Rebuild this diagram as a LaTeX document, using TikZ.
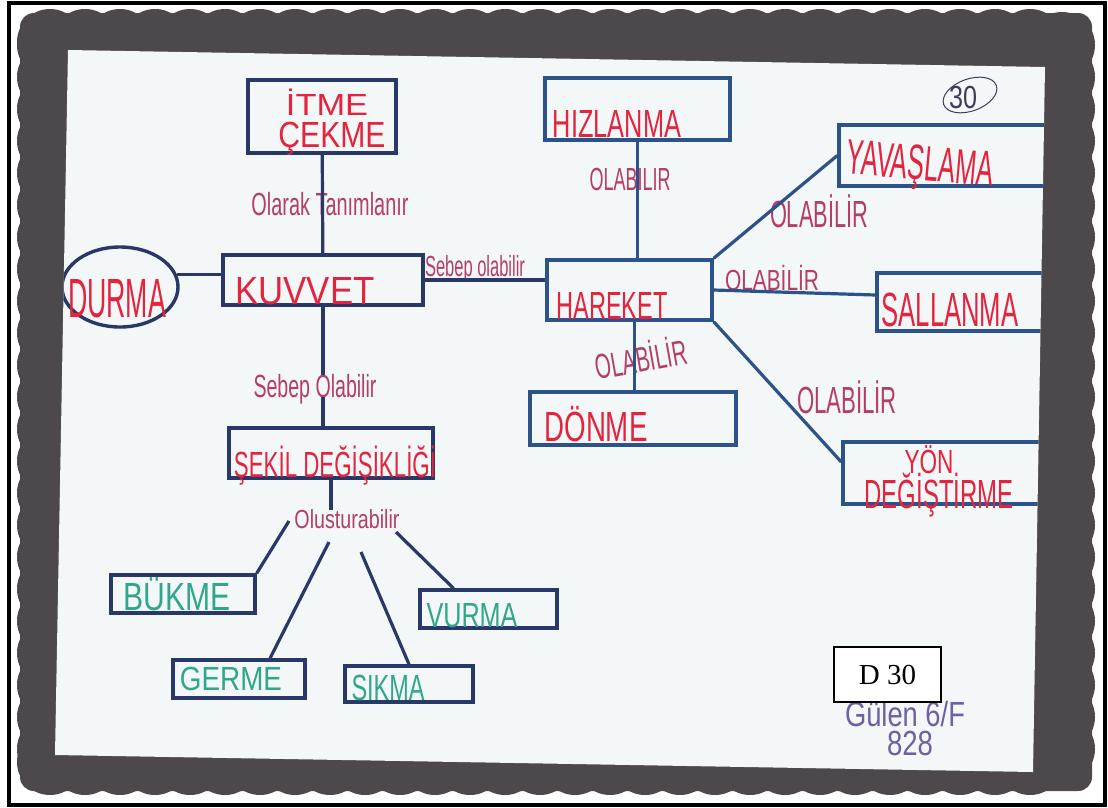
\documentclass[tikz,border=0pt]{standalone}
\usepackage{fontspec}
\usepackage{graphicx}
\newfontfamily\hand{Liberation Sans}
\newfontfamily\timesf{Liberation Serif}
\usetikzlibrary{calc,shapes.geometric}
\definecolor{navy}{RGB}{40,56,104}
\definecolor{blueline}{RGB}{44,82,138}
\definecolor{redtxt}{RGB}{226,36,62}
\definecolor{linktxt}{RGB}{180,62,104}
\definecolor{tealtxt}{RGB}{48,166,140}
\definecolor{band}{RGB}{76,72,76}
\definecolor{paper}{RGB}{244,247,247}
\definecolor{pencil}{RGB}{62,62,90}
\definecolor{purplepen}{RGB}{110,96,162}
\newcommand\hw[3]{\resizebox{#1pt}{#2pt}{\hand\smash{#3}\vphantom{E}}}
\begin{document}
\begin{tikzpicture}[x=1pt,y=-1pt,
  boxL/.style={draw=navy,line width=3.4pt,inner sep=0pt},
  boxR/.style={draw=blueline,line width=3.4pt,inner sep=0pt},
  linkL/.style={draw=navy,line width=3.2pt},
  linkR/.style={draw=blueline,line width=3.2pt},
  word/.style={inner sep=0pt,text=redtxt},
  greenword/.style={inner sep=0pt,text=tealtxt},
  linkword/.style={inner sep=0pt,text=linktxt}]
\useasboundingbox (0,0) rectangle (1108,807);
\fill[white] (0,0) rectangle (1108,807);
% scalloped dark card
\fill[band, rounded corners=14pt] (20,13) rectangle (1092,791);
\foreach \x in {50,85,...,1060} {
  \fill[band] (\x,42) circle (33pt);
  \fill[band] (\x,762) circle (33pt);
}
\foreach \y in {45,77,...,765} {
  \fill[band] (50,\y) circle (33pt);
  \fill[band] (1062,\y) circle (33pt);
}
\draw[black,line width=4pt] (9,3) rectangle (1105,805);
% paper
\fill[paper] (68,50) -- (1045,67) -- (1033,772) -- (55,755) -- cycle;
\begin{scope}
\clip (68,50) -- (1045,67) -- (1033,772) -- (55,755) -- cycle;
% boxes
\node[boxL,minimum width=148pt,minimum height=73pt] (A) at (322,116.5) {};
\node[boxL,minimum width=200pt,minimum height=50pt] (B) at (323,280) {};
\node[boxL,ellipse,minimum width=116pt,minimum height=80pt] (C) at (120,287) {};
\node[boxL,minimum width=204pt,minimum height=50pt] (D) at (331,453) {};
\node[boxL,minimum width=144pt,minimum height=38pt] (E) at (183,594) {};
\node[boxL,minimum width=132pt,minimum height=38pt] (F) at (239,679) {};
\node[boxL,minimum width=128pt,minimum height=36pt] (G) at (409,684) {};
\node[boxL,minimum width=137pt,minimum height=38pt] (H) at (488.5,609) {};
\node[boxR,minimum width=185pt,minimum height=62pt] (I) at (637.5,109) {};
\node[boxR,minimum width=165pt,minimum height=60pt] (J) at (629.5,290) {};
\node[boxR,minimum width=206pt,minimum height=53pt] (K) at (633,418.5) {};
\node[boxR,minimum width=231pt,minimum height=61pt] (L) at (954.5,155.5) {};
\node[boxR,minimum width=193pt,minimum height=58pt] (M) at (973.5,302) {};
\node[boxR,minimum width=227pt,minimum height=62pt] (N) at (956.5,473) {};
% texts in boxes
\node[word] (tItme) at (327,105) {\hw{82}{21}{İTME}};
\node[word] (tCekme) at (332,135) {\hw{107}{25}{ÇEKME}};
\node[word] (tKuvvet) at (305,291) {\hw{139}{27}{KUVVET}};
\node[word] (tDurma) at (117,298) {\hw{98}{38}{DURMA}};
\node[word] (tSekil) at (335,465) {\hw{202}{25}{ŞEKİL DEĞİŞİKLİĞİ}};
\node[greenword] (tBukme) at (177,597) {\hw{107}{27}{BÜKME}};
\node[greenword] (tGerme) at (231,679) {\hw{102}{23}{GERME}};
\node[greenword] (tSikma) at (388,688) {\hw{73}{25}{SIKMA}};
\node[greenword] (tVurma) at (472,615) {\hw{91}{24}{VURMA}};
\node[word] (tHiz) at (617,124) {\hw{128}{27}{HIZLANMA}};
\node[word,rotate=-5] (tYav) at (920,163) {\hw{147}{34}{YAVAŞLAMA}};
\node[word] (tHar) at (612,306) {\hw{111}{27}{HAREKET}};
\node[word] (tSal) at (950,310) {\hw{137}{33}{SALLANMA}};
\node[word] (tDon) at (596,427) {\hw{103}{29}{DÖNME}};
\node[word] (tYon) at (929,462) {\hw{49}{23}{YÖN}};
\node[word] (tDeg) at (939,494) {\hw{149}{28}{DEĞİŞTİRME}};
% link labels
\node[linkword] (lOlarak) at (330,204) {\hw{157}{22}{Olarak Tanımlanır}};
\node[linkword] (lSebep1) at (475,266) {\hw{100}{20}{Sebep olabilir}};
\node[linkword] (lSebep2) at (315,386) {\hw{123}{22}{Sebep Olabilir}};
\node[linkword] (lOlus) at (347,519) {\hw{105}{18}{Olusturabilir}};
\node[linkword] (lOl1) at (630,179) {\hw{81}{22}{OLABILIR}};
\node[linkword] (lOl2) at (819,214) {\hw{98}{26}{OLABİLİR}};
\node[linkword] (lOl3) at (772,280) {\hw{94}{20}{OLABİLİR}};
\node[linkword,rotate=10] (lOl4) at (641,360) {\hw{93}{24}{OLABİLİR}};
\node[linkword] (lOl5) at (847,400) {\hw{100}{26}{OLABİLİR}};
% connectors
\draw[linkL] (A) -- (B);
\draw[linkL] (C.12) -- (B.west |- C.12);
\draw[linkL] (B.east) -- (B.east -| J.west);
\draw[linkL] (B.south) -- (lSebep2.north -| B.south);
\draw[linkL] (lSebep2.south -| B.south) -- (B.south |- D.north);
\draw[linkL] (D.south) -- (D.south |- lOlus.north);
\coordinate (o1) at (289,521);
\coordinate (o2) at (329,542);
\coordinate (o3) at (361,552);
\coordinate (o4) at (396,532);
\draw[linkL] (o1) -- (E.north east);
\draw[linkL] (o2) -- ([xshift=31pt]F.north);
\draw[linkL] (o3) -- (G.north);
\draw[linkL] (o4) -- ([xshift=-35pt]H.north);
\draw[linkR] (I.south) -- (I.south |- J.north);
\draw[linkR] ([xshift=5pt]J.south) -- ([xshift=5pt]J.south |- K.north);
\draw[linkR] (J.north east) -- (L.west);
\draw[linkR] (J.east) -- ([yshift=7pt]M.west);
\draw[linkR] (J.south east) -- ([yshift=11pt]N.west);
% marks on the sheet
\node[draw=pencil,line width=1pt,ellipse,rotate=20,minimum width=56pt,minimum height=32pt,inner sep=0pt] (circ) at (970,95) {};
\node[inner sep=0pt,text=pencil] (n30) at (963,97) {\hw{28}{22}{30}};
\node[inner sep=0pt,text=purplepen] (gulen) at (905,714) {\hw{120}{24}{Gülen 6/F}};
\node[inner sep=0pt,text=purplepen] (num) at (910,743) {\hw{46}{24}{828}};
\node[draw=black,fill=white,line width=1.5pt,minimum width=107pt,minimum height=55pt,inner sep=0pt,font=\timesf\fontsize{29}{29}\selectfont] (d30) at (887.5,674.5) {D 30};
\end{scope}
\end{tikzpicture}
\end{document}
